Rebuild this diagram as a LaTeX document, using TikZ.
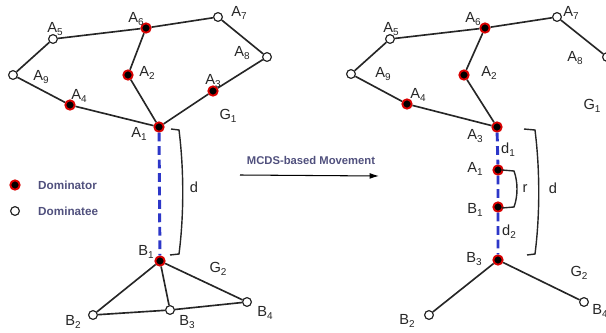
\documentclass[tikz,border=0pt]{standalone}
\usepackage{fontspec}
\setmainfont{Liberation Sans}
\usetikzlibrary{arrows.meta}
\definecolor{dashblue}{RGB}{45,55,200}
\definecolor{legtext}{RGB}{80,80,125}
\newcommand{\nm}[2]{#1\raisebox{-.4ex}{\fontsize{8.5}{9}\selectfont #2}}

\begin{document}
\begin{tikzpicture}[x=0.03cm, y=-0.03cm,
  dom/.style={circle, draw=red!85!black, line width=1.6pt, fill=black, inner sep=0pt, minimum size=8pt},
  dee/.style={circle, draw=black!85, line width=1pt, fill=white, inner sep=0pt, minimum size=7.5pt},
  edge/.style={draw=black!85, line width=1.4pt},
  move/.style={draw=dashblue, line width=2.5pt, dash pattern=on 7.5pt off 4pt},
  brk/.style={draw=black!85, line width=1.2pt},
  lbl/.style={font=\fontsize{12.5}{13}\selectfont, text=black!85, inner sep=0pt},
  leg/.style={font=\fontsize{10}{11}\selectfont\bfseries, text=legtext, inner sep=0pt, anchor=west}
]
  \useasboundingbox (0,0) rectangle (606,333);

  % before the movement
  \node[dom] (A6) at (146,28) {};
  \node[dee] (A7) at (218,17) {};
  \node[dee] (A5) at (53,39) {};
  \node[dee] (A9) at (13,75) {};
  \node[dom] (A2) at (128,75) {};
  \node[dee] (A8) at (267,57) {};
  \node[dom] (A3) at (213,91) {};
  \node[dom] (A4) at (70,105) {};
  \node[dom] (A1) at (159,127) {};
  \node[dom] (B1) at (160,261) {};
  \node[dee] (B2) at (93,315) {};
  \node[dee] (B3) at (170,310) {};
  \node[dee] (B4) at (247,302) {};

  \node[lbl] (lA5) at (55,29) {\nm{A}{5}};
  \node[lbl] (lA6) at (136,19) {\nm{A}{6}};
  \node[lbl] (lA7) at (239,13) {\nm{A}{7}};
  \node[lbl] (lA8) at (242,53) {\nm{A}{8}};
  \node[lbl] (lA9) at (41,77) {\nm{A}{9}};
  \node[lbl] (lA2) at (147,73) {\nm{A}{2}};
  \node[lbl] (lA3) at (213,81) {\nm{A}{3}};
  \node[lbl] (lA4) at (79,96) {\nm{A}{4}};
  \node[lbl] (lA1) at (139,134) {\nm{A}{1}};
  \node[lbl] (lG1) at (228,116) {\nm{G}{1}};
  \node[lbl] (lB1) at (146,252) {\nm{B}{1}};
  \node[lbl] (lG2) at (218,269) {\nm{G}{2}};
  \node[lbl] (lB2) at (73,322) {\nm{B}{2}};
  \node[lbl] (lB3) at (187,322) {\nm{B}{3}};
  \node[lbl] (lB4) at (265,313) {\nm{B}{4}};
  \node[lbl] (ld) at (194,187) {d};

  \draw[edge] (A5) -- (A6) -- (A7) -- (A8) -- (A3) -- (A1);
  \draw[edge] (A6) -- (A2) -- (A1);
  \draw[edge] (A5) -- (A9) -- (A4) -- (A1);
  \draw[edge] (B1) -- (B2) -- (B3) -- (B4) -- (B1);
  \draw[edge] (B1) -- (B3);
  \draw[move] (A1) -- (B1);
  \draw[brk] (171,129) -- (179,130) .. controls (184,170) and (184,215) .. (179,254) -- (170,255);

  % legend
  \node[dom] (legdom) at (15,185) {};
  \node[leg] (legdomt) at (38,185) {Dominator};
  \node[dee] (legdee) at (15,211) {};
  \node[leg] (legdeet) at (38,211) {Dominatee};

  % movement arrow
  \coordinate (mvs) at (240,175);
  \coordinate (mve) at (379,176);
  \draw[line width=0.9pt, -{Latex[length=8pt,width=5pt]}] (mvs) -- (mve);
  \node[font=\fontsize{9.6}{10}\selectfont\bfseries, text=legtext] (mvt) at (311,160) {MCDS-based Movement};

  % after the movement
  \node[dom] (C6) at (485,28) {};
  \node[dee] (C7) at (557,17) {};
  \node[dee] (C5) at (390,39) {};
  \node[dee] (C9) at (351,74) {};
  \node[dom] (C2) at (464,75) {};
  \node[dee] (C8) at (607,57) {};
  \node[dom] (C4) at (407,104) {};
  \node[dom] (C3) at (497,127) {};
  \node[dom] (D1a) at (498,170) {};
  \node[dom] (D1b) at (498,207) {};
  \node[dom] (D3) at (498,260) {};
  \node[dee] (D2) at (429,315) {};
  \node[dee] (D4) at (584,302) {};

  \node[lbl] (rA5) at (391,29) {\nm{A}{5}};
  \node[lbl] (rA6) at (473,19) {\nm{A}{6}};
  \node[lbl] (rA7) at (571,13) {\nm{A}{7}};
  \node[lbl] (rA8) at (575,58) {\nm{A}{8}};
  \node[lbl] (rA9) at (383,74) {\nm{A}{9}};
  \node[lbl] (rA2) at (489,73) {\nm{A}{2}};
  \node[lbl] (rA4) at (418,95) {\nm{A}{4}};
  \node[lbl] (rA3) at (475,136) {\nm{A}{3}};
  \node[lbl] (rG1) at (592,106) {\nm{G}{1}};
  \node[lbl] (rA1) at (475,169) {\nm{A}{1}};
  \node[lbl] (rB1) at (475,210) {\nm{B}{1}};
  \node[lbl] (rB3) at (474,259) {\nm{B}{3}};
  \node[lbl] (rd1) at (508,150) {\nm{d}{1}};
  \node[lbl] (rd2) at (509,232) {\nm{d}{2}};
  \node[lbl] (rr) at (525,189) {r};
  \node[lbl] (rd) at (553,188) {d};
  \node[lbl] (rG2) at (579,273) {\nm{G}{2}};
  \node[lbl] (rB2) at (407,321) {\nm{B}{2}};
  \node[lbl] (rB4) at (600,311) {\nm{B}{4}};

  \draw[edge] (C9) -- (C5) -- (C6) -- (C7) -- (C8);
  \draw[edge] (C6) -- (C2) -- (C3);
  \draw[edge] (C9) -- (C4) -- (C3);
  \draw[edge] (D2) -- (D3) -- (D4);
  \draw[move] (C3) -- (D1a) -- (D1b) -- (D3);
  \draw[brk] (502,170) -- (514,171) .. controls (518,182) and (518,196) .. (514,207) -- (502,208);
  \draw[brk] (524,129) -- (535,130) .. controls (540,170) and (540,215) .. (535,254) -- (527,255);
\end{tikzpicture}
\end{document}
